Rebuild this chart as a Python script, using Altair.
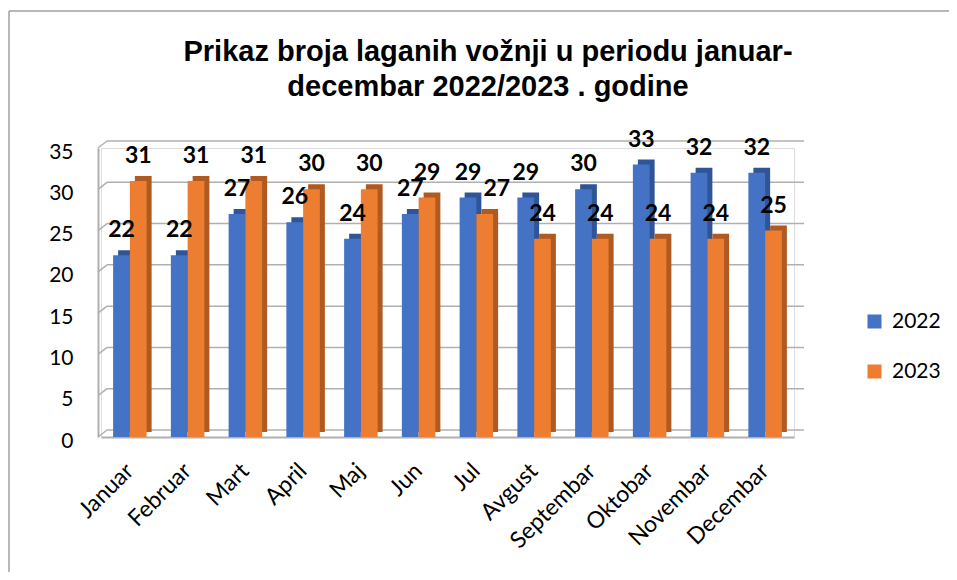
import altair as alt
import pandas as pd

months = ["Januar", "Februar", "Mart", "April", "Maj", "Jun", "Jul",
          "Avgust", "Septembar", "Oktobar", "Novembar", "Decembar"]
v2022 = [22, 22, 27, 26, 24, 27, 29, 29, 30, 33, 32, 32]
v2023 = [31, 31, 31, 30, 30, 29, 27, 24, 24, 24, 24, 25]
series = ["2022", "2023"]
front_colors = ["#4472c4", "#ed7d31"]
side_colors = ["#2f5597", "#ae5a21"]
yticks = [0, 5, 10, 15, 20, 25, 30, 35]
title_lines = ["Prikaz broja laganih vožnji u periodu januar-",
               "decembar 2022/2023 . godine"]

rows = []
for m, a, b in zip(months, v2022, v2023):
    rows.append({"mjesec": m, "godina": series[0], "broj": a, "tamna": side_colors[0]})
    rows.append({"mjesec": m, "godina": series[1], "broj": b, "tamna": side_colors[1]})
df = pd.DataFrame(rows)
grid_df = pd.DataFrame({"broj": yticks})
one = pd.DataFrame({"naslov": ["\n".join(title_lines)]})

W, H = 693, 289
PI, PO = 0.42, 0.21
BW = W / (12 - PI + 2 * PO) * (1 - PI)
DEPTH = 5
GRID = "#b0b0b0"
FONT = "Lato"

yscale = alt.Scale(domain=[0, 35], nice=False)
xenc = alt.X("mjesec:N", sort=months,
             scale=alt.Scale(paddingInner=PI, paddingOuter=PO),
             axis=alt.Axis(title=None, labelAngle=-45, labelAlign="right",
                           labelBaseline="middle", labelPadding=30,
                           labelFontSize=23, labelFont=FONT, labelColor="#000",
                           domainColor=GRID, domainWidth=2, ticks=False,
                           grid=False))
xoff = alt.XOffset("godina:N", sort=series,
                   scale=alt.Scale(range=[0, BW], paddingInner=0, paddingOuter=0))
xoff_side = alt.XOffset("godina:N", sort=series,
                        scale=alt.Scale(range=[DEPTH, DEPTH + BW],
                                        paddingInner=0, paddingOuter=0))
yenc = alt.Y("broj:Q", scale=yscale,
             axis=alt.Axis(title=None, values=yticks, grid=False, ticks=False,
                           domainColor=GRID, domainWidth=2, offset=3,
                           labelPadding=25, labelFontSize=21, labelFont=FONT,
                           labelColor="#000", labelOffset=4))

grid = alt.Chart(grid_df).mark_rule(color=GRID, strokeWidth=1.5, yOffset=-7).encode(
    y=yenc, x=alt.value(6), x2=alt.value(W + 10))

slant = alt.Chart(grid_df).mark_rule(color=GRID, strokeWidth=1.5, y2Offset=-7).encode(
    y=yenc, y2="broj:Q", x=alt.value(-3), x2=alt.value(6))

side = alt.Chart(df).mark_bar(yOffset=-DEPTH).encode(
    x=xenc, xOffset=xoff_side, y=yenc,
    color=alt.Color("tamna:N", scale=None))

front = alt.Chart(df).mark_bar().encode(
    x=xenc, xOffset=xoff, y=yenc,
    color=alt.Color("godina:N",
                    scale=alt.Scale(domain=series, range=front_colors),
                    legend=alt.Legend(title=None, orient="none", legendX=763,
                                      legendY=163, symbolType="square",
                                      symbolSize=196, symbolStrokeWidth=0,
                                      labelFontSize=21, labelFont=FONT,
                                      labelColor="#000", rowPadding=28,
                                      labelOffset=7)))

shifted = (alt.datum.mjesec == "Jul") & (alt.datum.godina == "2023")
label_style = dict(fontSize=23, fontWeight="bold", font=FONT,
                   baseline="alphabetic", dy=-18, color="#000")

labels = alt.Chart(df).mark_text(**label_style).encode(
    x=xenc, xOffset=xoff, y=yenc, text="broj:Q"
).transform_filter(~shifted)

labels_shift = alt.Chart(df).mark_text(dx=12, **label_style).encode(
    x=xenc, xOffset=xoff, y=yenc, text="broj:Q"
).transform_filter(shifted)

front_group = alt.layer(front, labels, labels_shift)

title = alt.Chart(one).mark_text(font="Liberation Sans", fontSize=29,
                                 fontWeight="bold", color="#000", align="center",
                                 baseline="alphabetic", lineBreak="\n",
                                 lineHeight=35).encode(
    x=alt.value(387), y=alt.value(-87), text="naslov:N")

border_top = alt.Chart(one).mark_rule(color="#a0a0a0", strokeWidth=1.5).encode(
    x=alt.value(-92), x2=alt.value(W + 200), y=alt.value(-137))
border_left = alt.Chart(one).mark_rule(color="#a0a0a0", strokeWidth=1.5).encode(
    x=alt.value(-92), y=alt.value(-137), y2=alt.value(H + 200))

chart = alt.layer(grid, slant, side, front_group, title, border_top, border_left).resolve_scale(
    color="independent", xOffset="independent"
).properties(
    width=W, height=H,
    padding={"left": 93, "top": 140, "right": 155, "bottom": 135},
    autosize=alt.AutoSizeParams(type="none"),
).configure_view(strokeWidth=0).configure(background="white")

chart.save("out.html", embed_options={"renderer": "svg", "actions": False})
